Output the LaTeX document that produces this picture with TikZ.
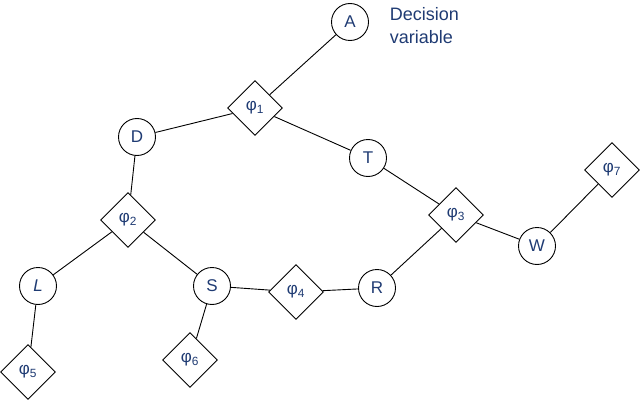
\documentclass[tikz,border=0pt]{standalone}
\usepackage{fontspec}
\setmainfont{Liberation Sans}
\usetikzlibrary{shapes.geometric}
\definecolor{txtblue}{HTML}{1F3B73}

\begin{document}
\begin{tikzpicture}[x=1pt,y=-1pt,line width=0.9pt,
  var/.style={circle,draw,minimum size=37pt,inner sep=0pt,
    font=\fontsize{17}{19}\selectfont,text=txtblue},
  fac/.style={diamond,draw,minimum size=55pt,inner sep=0pt,
    font=\fontsize{17}{19}\selectfont,text=txtblue}]

  \useasboundingbox (0,0) rectangle (640,404);

  \node[var] (A) at (350,22) {A};
  \node[var] (D) at (137,137) {D};
  \node[var] (T) at (368,158) {T};
  \node[var] (W) at (537,246) {W};
  \node[var] (L) at (38,286) {\textit{L}};
  \node[var] (S) at (212,286) {S};
  \node[var] (R) at (377,288) {R};

  \node[fac] (f1) at (255,108) {φ\textsubscript{1}};
  \node[fac] (f2) at (128,220) {φ\textsubscript{2}};
  \node[fac] (f3) at (456,215) {φ\textsubscript{3}};
  \node[fac] (f4) at (296,292) {φ\textsubscript{4}};
  \node[fac] (f5) at (28,372) {φ\textsubscript{5}};
  \node[fac] (f6) at (190,360) {φ\textsubscript{6}};
  \node[fac] (f7) at (612,170) {φ\textsubscript{7}};

  \node[anchor=west,align=left,text=txtblue,font=\fontsize{18}{23}\selectfont]
    (note) at (386,26) {Decision\\variable};

  \draw (A) -- (f1);
  \draw (f1) -- (D);
  \draw (f1) -- (T);
  \draw (D) -- (f2);
  \draw (f2) -- (L);
  \draw (f2) -- (S);
  \draw (T) -- (f3);
  \draw (f3) -- (W);
  \draw (f3) -- (R);
  \draw (W) -- (f7);
  \draw (S) -- (f4);
  \draw (f4) -- (R);
  \draw (L) -- (f5);
  \draw (S) -- (f6);

\end{tikzpicture}
\end{document}
